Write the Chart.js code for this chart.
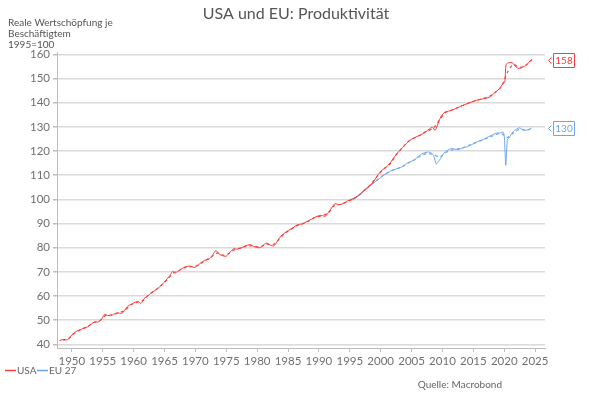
<!DOCTYPE html>
<html>
<head>
<meta charset="utf-8">
<script src="https://cdn.jsdelivr.net/npm/chart.js@4"></script>
<style>
  html, body { margin: 0; padding: 0; background: #fff; }
  #wrap { width: 591px; height: 397px; }
</style>
</head>
<body>
<div id="wrap"><canvas id="prod-chart" width="591" height="397"></canvas></div>
<script>
// USA, quarterly-ish readings (solid line)
var usaYears = [1948.0, 1948.5, 1949.0, 1949.5, 1950.0, 1950.5, 1951.0, 1951.5, 1952.0, 1952.6,
  1953.2, 1953.7, 1954.2, 1954.7, 1955.3, 1955.8, 1956.3, 1956.8, 1957.4, 1957.9,
  1958.3, 1958.8, 1959.3, 1959.8, 1960.3, 1960.8, 1961.2, 1961.7, 1962.3, 1962.8,
  1963.6, 1964.2, 1964.9, 1965.5, 1966.0, 1966.3, 1966.7, 1967.2, 1967.8, 1968.5,
  1969.2, 1969.8, 1970.3, 1970.9, 1971.5, 1972.2, 1972.8, 1973.3, 1973.8, 1974.5,
  1975.0, 1975.5, 1976.2, 1976.8, 1977.5, 1978.0, 1978.9, 1979.5, 1980.2, 1980.6,
  1981.2, 1981.6, 1982.2, 1982.7, 1983.3, 1983.8, 1984.5, 1985.1, 1985.8, 1986.5,
  1987.2, 1988.1, 1988.9, 1989.7, 1990.4, 1991.0, 1991.5, 1992.2, 1992.6, 1993.4,
  1994.2, 1995.0, 1995.8, 1996.7, 1997.7, 1998.8, 1999.9, 2001.2, 2002.0, 2002.6,
  2003.6, 2004.7, 2005.5, 2006.3, 2007.2, 2007.9, 2008.4, 2008.8, 2009.3, 2009.8,
  2010.4, 2011.0, 2011.7, 2012.5, 2013.3, 2014.4, 2015.5, 2016.5, 2017.6, 2018.4,
  2019.2, 2019.8, 2020.1, 2020.3, 2020.8, 2021.4, 2021.9, 2022.5, 2023.0, 2023.5,
  2024.0, 2024.4];
var usaValues = [41.5, 42.0, 41.8, 42.3, 43.9, 45.0, 45.7, 46.2, 46.8, 47.3,
  48.5, 49.3, 49.2, 50.0, 52.4, 52.0, 51.9, 52.5, 53.1, 52.8,
  53.2, 55.0, 56.2, 56.8, 57.5, 57.6, 57.0, 59.0, 60.0, 61.3,
  62.5, 63.8, 65.6, 67.3, 69.0, 70.2, 69.6, 70.3, 71.3, 72.2,
  72.4, 71.8, 72.5, 73.8, 74.8, 75.2, 77.0, 78.8, 77.5, 76.6,
  76.5, 77.8, 79.6, 79.4, 80.0, 80.6, 81.3, 80.5, 80.0, 80.2,
  81.5, 81.9, 81.0, 80.8, 82.8, 84.7, 86.2, 87.2, 88.2, 89.5,
  89.8, 90.9, 92.0, 93.0, 93.4, 93.0, 94.5, 97.0, 98.2, 97.8,
  98.7, 99.8, 100.5, 102.3, 104.4, 107.2, 111.3, 114.1, 116.8, 118.9,
  121.6, 124.4, 125.6, 126.5, 127.8, 129.2, 129.8, 128.6, 131.5, 134.5,
  136.1, 136.5, 137.1, 138.0, 138.9, 140.0, 141.0, 141.6, 142.3, 144.0,
  145.8, 147.9, 148.5, 155.8, 156.6, 156.4, 154.8, 154.1, 154.8, 155.4,
  156.8, 157.8];

// USA, annual (dashed line)
var usaAnnualYears = [1948.5, 1949.5, 1950.5, 1951.5, 1952.5, 1953.5, 1954.5, 1955.5, 1956.5, 1957.5,
  1958.5, 1959.5, 1960.5, 1961.5, 1962.5, 1963.5, 1964.5, 1965.5, 1966.5, 1967.5,
  1968.5, 1969.5, 1970.5, 1971.5, 1972.5, 1973.5, 1974.5, 1975.5, 1976.5, 1977.5,
  1978.5, 1979.5, 1980.5, 1981.5, 1982.5, 1983.5, 1984.5, 1985.5, 1986.5, 1987.5,
  1988.5, 1989.5, 1990.5, 1991.5, 1992.5, 1993.5, 1994.5, 1995.5, 1996.5, 1997.5,
  1998.5, 1999.5, 2000.5, 2001.5, 2002.5, 2003.5, 2004.5, 2005.5, 2006.5, 2007.5,
  2008.5, 2009.5, 2010.5, 2011.5, 2012.5, 2013.5, 2014.5, 2015.5, 2016.5, 2017.5,
  2018.5, 2019.5, 2020.5, 2021.5, 2022.5, 2023.5, 2024.5];
var usaAnnualValues = [41.8, 42.5, 44.8, 46.2, 47.3, 49.0, 49.8, 52.0, 52.2, 53.0,
  54.0, 56.3, 57.4, 58.2, 60.6, 62.4, 64.5, 67.0, 69.6, 70.8,
  72.0, 72.2, 72.8, 74.6, 76.0, 77.8, 76.9, 77.8, 79.4, 80.0,
  80.9, 80.6, 80.4, 81.5, 81.2, 83.4, 86.0, 87.6, 89.2, 90.0,
  91.3, 92.6, 93.3, 94.4, 97.5, 98.0, 98.9, 100.2, 101.9, 104.0,
  106.5, 109.8, 112.6, 114.6, 118.4, 121.4, 124.0, 125.5, 126.8, 128.3,
  129.4, 132.8, 136.0, 136.9, 138.0, 139.1, 140.1, 141.0, 141.7, 142.5,
  144.2, 146.5, 152.5, 155.8, 154.6, 155.6, 157.9];

// EU 27, quarterly-ish readings (solid line)
var euYears = [1995.0, 1995.5, 1996.2, 1996.8, 1997.2, 1998.0, 1998.8, 1999.6, 2000.4, 2001.0,
  2001.8, 2002.5, 2003.4, 2004.0, 2004.7, 2005.5, 2006.3, 2007.0, 2007.7, 2008.2,
  2008.6, 2009.0, 2009.4, 2009.9, 2010.4, 2010.9, 2011.4, 2012.0, 2012.5, 2013.2,
  2013.9, 2014.7, 2015.5, 2016.3, 2017.1, 2017.9, 2018.7, 2019.3, 2019.8, 2020.0,
  2020.25, 2020.5, 2020.8, 2021.4, 2021.9, 2022.5, 2023.0, 2023.5, 2024.0, 2024.4];
var euValues = [99.6, 100.2, 101.2, 102.3, 103.7, 105.2, 106.7, 108.2, 109.9, 110.8,
  112.0, 112.6, 113.4, 114.5, 115.4, 116.5, 118.2, 119.2, 119.6, 119.3,
  117.8, 114.7, 115.8, 117.8, 119.6, 120.4, 121.0, 120.8, 120.6, 121.2,
  121.7, 122.6, 123.7, 124.5, 125.5, 126.5, 127.4, 127.5, 127.9, 126.5,
  114.1, 124.5, 125.6, 127.9, 129.0, 129.6, 128.8, 128.6, 128.9, 129.6];

// EU 27, annual (dashed line)
var euAnnualYears = [1995.5, 1996.5, 1997.5, 1998.5, 1999.5, 2000.5, 2001.5, 2002.5, 2003.5, 2004.5,
  2005.5, 2006.5, 2007.5, 2008.5, 2009.5, 2010.5, 2011.5, 2012.5, 2013.5, 2014.5,
  2015.5, 2016.5, 2017.5, 2018.5, 2019.5, 2020.5, 2021.5, 2022.5, 2023.5, 2024.5];
var euAnnualValues = [100.0, 101.8, 104.0, 106.2, 108.2, 110.0, 111.6, 112.6, 113.6, 115.2,
  116.4, 118.0, 119.0, 118.6, 117.6, 119.3, 120.4, 120.9, 121.6, 122.6,
  123.6, 124.6, 125.6, 126.7, 127.3, 125.6, 127.6, 129.0, 128.7, 129.4];

var xTicks = [1950, 1955, 1960, 1965, 1970, 1975, 1980, 1985, 1990, 1995, 2000, 2005, 2010, 2015, 2020, 2025];
var yTicks = [40, 50, 60, 70, 80, 90, 100, 110, 120, 130, 140, 150, 160];

var RED = "#ff3b3b";
var BLUE = "#6ea4f0";
var FONT = "Lato, sans-serif";

function pts(xs, ys) {
  return xs.map(function (x, i) { return { x: x, y: ys[i] }; });
}

// title, axis note, legend, source and end-value boxes
var extras = {
  id: "extras",
  afterDatasetsDraw: function (chart) {
    var c = chart.ctx;
    var yScale = chart.scales.y;
    var right = chart.chartArea.right;
    var ends = [
      { v: usaValues[usaValues.length - 1], col: RED },
      { v: euValues[euValues.length - 1], col: BLUE }
    ];
    c.save();
    c.font = "10px " + FONT;
    c.textBaseline = "middle";
    ends.forEach(function (e) {
      var y = Math.round(yScale.getPixelForValue(e.v)) + 0.5;
      var x0 = right + 8.5, w = 21, h = 14;
      c.fillStyle = "#fff";
      c.strokeStyle = e.col;
      c.lineWidth = 1;
      c.beginPath();
      c.rect(x0, y - h / 2, w, h);
      c.fill();
      c.stroke();
      c.beginPath();
      c.moveTo(x0 - 2, y - 3);
      c.lineTo(x0 - 5, y);
      c.lineTo(x0 - 2, y + 3);
      c.stroke();
      c.fillStyle = e.col;
      c.textAlign = "center";
      c.fillText(String(Math.round(e.v)), x0 + w / 2, y + 0.5);
    });
    c.restore();
  },
  afterDraw: function (chart) {
    var c = chart.ctx;
    c.save();
    c.fillStyle = "#555";
    c.textBaseline = "middle";
    c.font = "16px " + FONT;
    c.textAlign = "center";
    c.fillText("USA und EU: Produktivität", 296, 14);

    c.font = "10px " + FONT;
    c.textAlign = "left";
    c.fillText("Reale Wertschöpfung je", 8, 23);
    c.fillText("Beschäftigtem", 8, 34);
    c.fillText("1995=100", 8, 45);

    // legend
    c.fillStyle = "#666";
    c.lineWidth = 1.5;
    c.strokeStyle = RED;
    c.beginPath(); c.moveTo(5, 370.5); c.lineTo(16, 370.5); c.stroke();
    c.fillText("USA", 17, 370.5);
    c.strokeStyle = BLUE;
    c.beginPath(); c.moveTo(37, 370.5); c.lineTo(48, 370.5); c.stroke();
    c.fillText("EU 27", 49, 370.5);

    c.textAlign = "right";
    c.fillText("Quelle: Macrobond", 502, 385);
    c.restore();
  }
};

var ctx = document.getElementById("prod-chart").getContext("2d");
var myChart = new Chart(ctx, {
  type: "line",
  data: {
    datasets: [
      { label: "USA", data: pts(usaYears, usaValues), borderColor: RED, borderWidth: 1, tension: 0.3 },
      { label: "USA Jahr", data: pts(usaAnnualYears, usaAnnualValues), borderColor: RED, borderWidth: 1.2, borderDash: [3, 3], tension: 0.3 },
      { label: "EU 27", data: pts(euYears, euValues), borderColor: BLUE, borderWidth: 1, tension: 0.2 },
      { label: "EU 27 Jahr", data: pts(euAnnualYears, euAnnualValues), borderColor: BLUE, borderWidth: 1.2, borderDash: [3, 3], tension: 0.3 }
    ]
  },
  options: {
    responsive: false,
    animation: false,
    events: [],
    elements: { point: { radius: 0 } },
    layout: { padding: { left: 0, right: 46, top: 52, bottom: 0 } },
    plugins: {
      legend: { display: false },
      tooltip: { enabled: false }
    },
    scales: {
      x: {
        type: "linear",
        min: 1947.6,
        max: 2026.6,
        afterBuildTicks: function (scale) {
          scale.ticks = xTicks.map(function (v) { return { value: v }; });
        },
        afterFit: function (scale) { scale.height = 49; },
        border: { color: "#bdbdbd", width: 1 },
        grid: { drawOnChartArea: false, drawTicks: true, tickLength: 4, color: "#bdbdbd" },
        ticks: {
          color: "#707070",
          font: { family: FONT, size: 11.5 },
          padding: 2,
          maxRotation: 0,
          autoSkip: false,
          callback: function (v) { return String(v); }
        }
      },
      y: {
        min: 38.5,
        max: 161,
        afterBuildTicks: function (scale) {
          scale.ticks = yTicks.map(function (v) { return { value: v }; });
        },
        afterFit: function (scale) { scale.width = 57; },
        border: { color: "#bdbdbd", width: 1 },
        grid: { color: "#dadada", lineWidth: 1.5, tickLength: 4, tickColor: "#bdbdbd" },
        ticks: {
          color: "#707070",
          font: { family: FONT, size: 11.5 },
          padding: 3,
          autoSkip: false
        }
      }
    }
  },
  plugins: [extras]
});
</script>
</body>
</html>
